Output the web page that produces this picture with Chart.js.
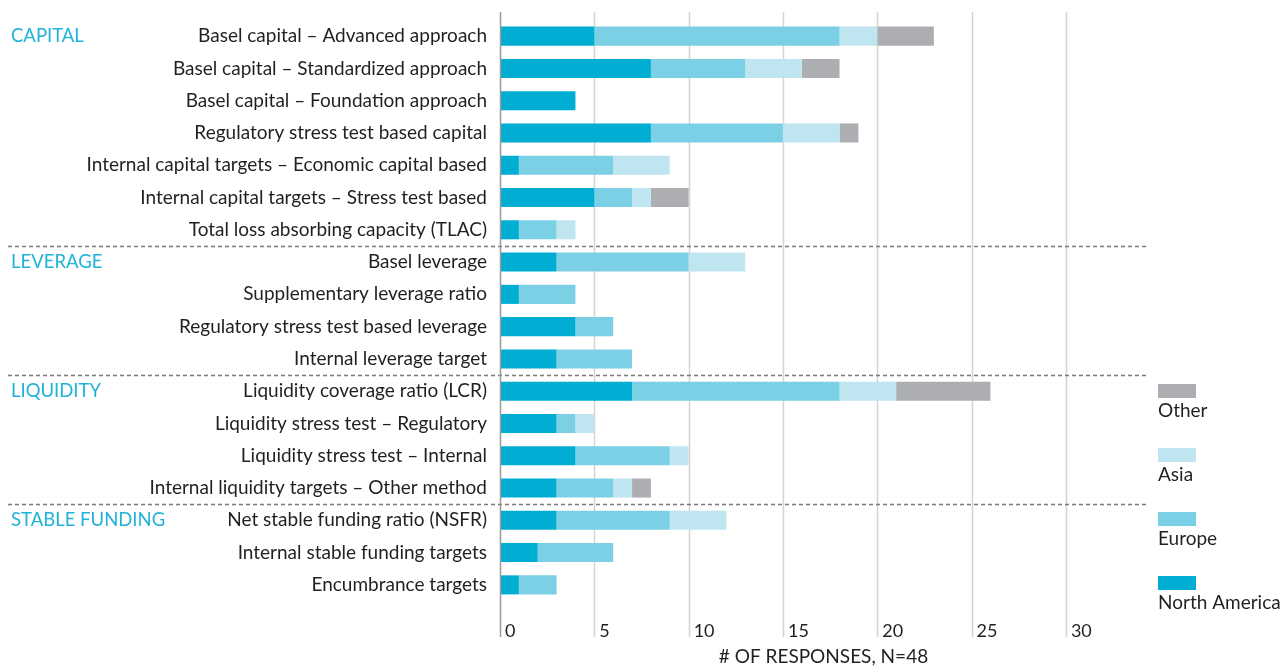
<!DOCTYPE html>
<html>
<head>
<meta charset="utf-8">
<script src="https://cdn.jsdelivr.net/npm/chart.js@4.4.1/dist/chart.umd.min.js"></script>
<style>
    html, body { margin: 0; padding: 0; background: #fff; }
    #chart { display: block; }
</style>
</head>
<body>
<canvas id="chart" width="1282" height="668"></canvas>
<script>
// data
const categories = [
    'Basel capital – Advanced approach',
    'Basel capital – Standardized approach',
    'Basel capital – Foundation approach',
    'Regulatory stress test based capital',
    'Internal capital targets – Economic capital based',
    'Internal capital targets – Stress test based',
    'Total loss absorbing capacity (TLAC)',
    'Basel leverage',
    'Supplementary leverage ratio',
    'Regulatory stress test based leverage',
    'Internal leverage target',
    'Liquidity coverage ratio (LCR)',
    'Liquidity stress test – Regulatory',
    'Liquidity stress test – Internal',
    'Internal liquidity targets – Other method',
    'Net stable funding ratio (NSFR)',
    'Internal stable funding targets',
    'Encumbrance targets'
];
const northAmerica = [5, 8, 4, 8, 1, 5, 1, 3, 1, 4, 3, 7, 3, 4, 3, 3, 2, 1];
const europe       = [13, 5, 0, 7, 5, 2, 2, 7, 3, 2, 4, 11, 1, 5, 3, 6, 4, 2];
const asia         = [2, 3, 0, 3, 3, 1, 1, 3, 0, 0, 0, 3, 1, 1, 1, 3, 0, 0];
const other        = [3, 2, 0, 1, 0, 2, 0, 0, 0, 0, 0, 5, 0, 0, 1, 0, 0, 0];

const groupNames = ['CAPITAL', 'LEVERAGE', 'LIQUIDITY', 'STABLE FUNDING'];
const groupStarts = [0, 7, 11, 15];
const xTicks = [0, 5, 10, 15, 20, 25, 30];
const axisTitle = '# OF RESPONSES, N=48';

const FONT = 'Lato, "Open Sans", sans-serif';
const TEXT = '#231f20';

// gridlines, group separators, group names and the legend
const decor = {
    id: 'decor',
    beforeDatasetsDraw(chart) {
        const ctx = chart.ctx;
        const xs = chart.scales.x;
        const ys = chart.scales.y;
        ctx.save();
        ctx.strokeStyle = '#d4d4d4';
        ctx.lineWidth = 1.5;
        xs.ticks.forEach(t => {
            if (t.value === 0) return;
            const x = Math.round(xs.getPixelForValue(t.value)) + 0.5;
            ctx.beginPath();
            ctx.moveTo(x, 12);
            ctx.lineTo(x, 637);
            ctx.stroke();
        });

        ctx.strokeStyle = '#7a7a7a';
        ctx.setLineDash([4, 3]);
        groupStarts.slice(1).forEach(s => {
            const y = Math.round(ys.getPixelForValue(s - 0.5)) + 0.5;
            ctx.beginPath();
            ctx.moveTo(8, y);
            ctx.lineTo(chart.chartArea.right, y);
            ctx.stroke();
        });
        ctx.setLineDash([]);

        ctx.fillStyle = '#1fb3da';
        ctx.font = '18.5px ' + FONT;
        ctx.textAlign = 'left';
        ctx.textBaseline = 'middle';
        groupStarts.forEach((s, i) => {
            ctx.fillText(groupNames[i], 11, ys.getPixelForValue(s));
        });
        ctx.restore();
    },
    afterDatasetsDraw(chart) {
        const ctx = chart.ctx;
        const x = Math.round(chart.scales.x.getPixelForValue(0)) + 0.5;
        ctx.save();
        ctx.strokeStyle = '#9a9a9a';
        ctx.lineWidth = 1.5;
        ctx.beginPath();
        ctx.moveTo(x, 12);
        ctx.lineTo(x, 637);
        ctx.stroke();
        ctx.restore();
    },
    afterDraw(chart) {
        const ctx = chart.ctx;
        const sets = chart.data.datasets.slice().reverse();
        ctx.save();
        ctx.font = '19px ' + FONT;
        ctx.textAlign = 'left';
        ctx.textBaseline = 'middle';
        sets.forEach((ds, i) => {
            const top = 384 + i * 64;
            ctx.fillStyle = ds.backgroundColor;
            ctx.fillRect(1158, top, 38, 14);
            ctx.fillStyle = TEXT;
            ctx.fillText(ds.label, 1158, top + 27);
        });
        ctx.restore();
    }
};

const ctx = document.getElementById('chart').getContext('2d');

new Chart(ctx, {
    type: 'bar',
    data: {
        labels: categories,
        datasets: [
            { label: 'North America', data: northAmerica, backgroundColor: '#00aed4' },
            { label: 'Europe', data: europe, backgroundColor: '#7bd0e6' },
            { label: 'Asia', data: asia, backgroundColor: '#bfe6f0' },
            { label: 'Other', data: other, backgroundColor: '#adaeb1' }
        ]
    },
    options: {
        indexAxis: 'y',
        responsive: false,
        animation: false,
        layout: { padding: { top: 20, right: 135, left: 0, bottom: 0 } },
        datasets: {
            bar: { barPercentage: 0.59, categoryPercentage: 1, borderWidth: 0 }
        },
        scales: {
            x: {
                stacked: true,
                min: 0,
                max: 34.3,
                afterBuildTicks: s => { s.ticks = xTicks.map(v => ({ value: v })); },
                afterFit: s => { s.height = 67; s.paddingLeft = 0; s.paddingRight = 0; },
                grid: { display: false, drawTicks: false },
                border: { display: false },
                ticks: {
                    align: 'start',
                    labelOffset: 5,
                    padding: 19,
                    color: TEXT,
                    font: { family: FONT, size: 18 }
                },
                title: {
                    display: true,
                    text: axisTitle,
                    color: TEXT,
                    padding: 0,
                    font: { family: FONT, size: 19 }
                }
            },
            y: {
                stacked: true,
                afterFit: s => { s.width = 500; s.paddingTop = 0; s.paddingBottom = 0; },
                grid: { display: false, drawTicks: false },
                border: { display: false },
                ticks: {
                    padding: 13,
                    color: TEXT,
                    font: { family: FONT, size: 19 }
                }
            }
        },
        plugins: {
            legend: { display: false },
            tooltip: { enabled: false }
        }
    },
    plugins: [decor]
});
</script>
</body>
</html>
